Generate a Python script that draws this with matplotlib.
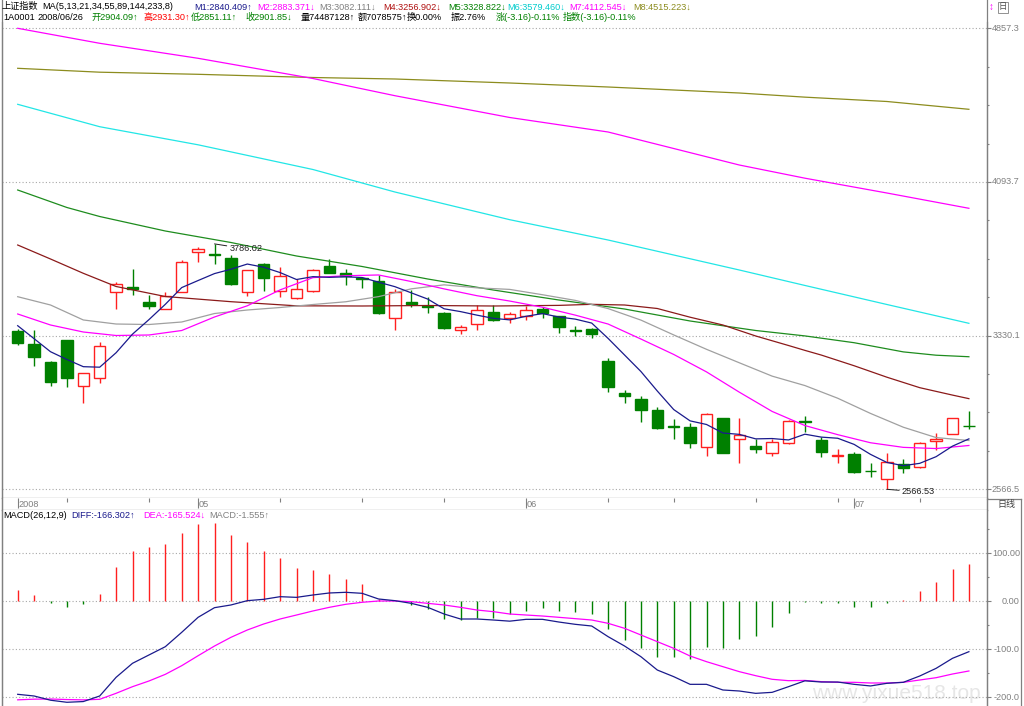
import numpy as np
import matplotlib
matplotlib.use('Agg')
import matplotlib.pyplot as plt
from matplotlib.lines import Line2D
from matplotlib.patches import Rectangle
from matplotlib.transforms import blended_transform_factory

# ---------------- data ----------------
opens = [3353.2, 3287.1, 3200.6, 3308.4, 3079.9, 3118.1, 3545.5, 3573.3, 3498.7, 3461.0,
         3548.4, 3744.2, 3735.8, 3717.4, 3545.5, 3686.1, 3551.9, 3518.6, 3551.9, 3677.6,
         3639.9, 3615.0, 3601.6, 3416.3, 3495.8, 3476.4, 3444.1, 3358.1, 3387.9, 3449.1,
         3416.3, 3429.2, 3461.0, 3427.7, 3357.3, 3361.6, 3205.6, 3046.6, 3013.8, 2960.6,
         2879.6, 2874.6, 2775.3, 2922.3, 2815.0, 2781.7, 2748.4, 2795.1, 2904.09, 2811.5,
         2733.5, 2742.0, 2659.5, 2616.3, 2690.8, 2675.9, 2808.1, 2839.9, 2883.1]
highs = [3361.6, 3358.1, 3204.1, 3308.4, 3145.9, 3300.0, 3595.1, 3661.2, 3530.6, 3548.4,
         3706.0, 3772.0, 3786.02, 3730.8, 3656.3, 3692.5, 3669.7, 3610.1, 3659.7, 3709.4,
         3659.7, 3623.0, 3631.4, 3561.9, 3556.9, 3520.6, 3449.1, 3383.0, 3482.4, 3482.4,
         3449.1, 3477.4, 3473.9, 3427.7, 3378.0, 3366.6, 3217.5, 3060.0, 3030.2, 2977.0,
         2915.9, 2897.5, 2947.2, 2922.3, 2919.4, 2815.0, 2815.0, 2910.9, 2931.30, 2825.0,
         2765.3, 2753.4, 2698.7, 2745.4, 2715.6, 2803.1, 2844.8, 2922.3, 2955.6]
lows = [3283.6, 3180.7, 3081.4, 3073.4, 2993.9, 3093.3, 3462.5, 3532.0, 3462.5, 3461.0,
        3548.4, 3697.5, 3684.6, 3581.7, 3528.6, 3553.4, 3523.6, 3512.2, 3548.4, 3639.9,
        3581.7, 3565.3, 3436.1, 3358.1, 3473.9, 3441.1, 3364.6, 3338.3, 3358.1, 3404.3,
        3394.4, 3407.8, 3416.3, 3344.7, 3329.8, 3316.9, 3048.6, 2993.9, 2902.5, 2867.7,
        2815.0, 2770.3, 2732.0, 2745.4, 2695.8, 2745.4, 2732.0, 2791.7, 2851.11, 2725.6,
        2698.7, 2649.1, 2629.2, 2566.53, 2649.1, 2670.9, 2761.8, 2839.9, 2864.7]
closes = [3292.0, 3225.5, 3098.2, 3118.1, 3145.9, 3278.6, 3585.2, 3560.4, 3477.4, 3527.1,
          3694.5, 3760.6, 3733.0, 3585.2, 3656.3, 3615.0, 3627.9, 3560.4, 3656.3, 3639.9,
          3627.9, 3610.1, 3444.1, 3545.5, 3485.8, 3473.9, 3368.1, 3374.5, 3457.5, 3406.3,
          3436.1, 3457.5, 3441.1, 3371.6, 3354.6, 3338.3, 3076.4, 3030.2, 2960.6, 2869.7,
          2877.6, 2795.1, 2940.7, 2748.4, 2836.4, 2765.3, 2803.1, 2905.9, 2901.85, 2753.4,
          2737.0, 2651.0, 2657.5, 2700.7, 2673.9, 2795.1, 2816.5, 2919.4, 2881.1]

ma1_bars = list(range(59))
ma1 = [3379.5, 3315.0, 3250.3, 3211.6, 3175.9, 3173.3, 3245.2, 3337.6, 3409.5, 3485.7,
       3568.9, 3604.0, 3638.5, 3660.1, 3685.9, 3670.0, 3643.5, 3609.0, 3623.2, 3619.9,
       3622.5, 3618.9, 3595.7, 3573.5, 3542.7, 3511.9, 3463.5, 3449.6, 3432.0, 3416.1,
       3408.5, 3426.4, 3439.7, 3422.5, 3412.2, 3392.6, 3316.4, 3234.2, 3152.0, 3055.0,
       2962.9, 2906.6, 2888.7, 2846.3, 2839.6, 2817.2, 2818.8, 2811.8, 2840.4, 2825.9,
       2820.3, 2789.8, 2740.2, 2699.9, 2684.0, 2695.6, 2728.7, 2781.1, 2817.2]
ma2_bars = list(range(0, 59, 2))
ma2 = [3437.7, 3383.0, 3348.2, 3330.8, 3333.3, 3355.6, 3422.8, 3478.5, 3557.5, 3618.4,
       3627.8, 3631.6, 3599.0, 3562.4, 3528.6, 3502.0, 3471.4, 3432.0, 3387.8, 3313.3,
       3236.7, 3150.0, 3049.3, 2953.6, 2883.4, 2838.1, 2797.9, 2775.0, 2769.1, 2784.3]
ma3_bars = list(range(0, 59, 2))
ma3 = [3523.6, 3482.4, 3408.0, 3387.9, 3385.4, 3397.9, 3440.1, 3457.5, 3469.9, 3484.8,
       3498.4, 3523.9, 3562.7, 3582.6, 3567.7, 3559.9, 3533.4, 3505.3, 3464.5, 3407.4,
       3333.7, 3262.2, 3195.3, 3129.0, 3082.1, 3019.1, 2943.6, 2875.1, 2823.6, 2809.1]
ma4_bars = [0, 2, 4, 6, 9, 13, 17, 21, 25, 29, 33, 35, 37, 39, 41, 43, 45, 47, 48, 49,
            51, 53, 55, 57, 58]
ma4 = [3780.5, 3711.0, 3639.9, 3574.3, 3524.6, 3498.8, 3478.3, 3477.4, 3479.9, 3477.4,
       3480.5, 3485.7, 3482.4, 3465.0, 3421.7, 3383.0, 3328.4, 3281.1, 3256.9, 3233.6,
       3180.6, 3123.6, 3071.6, 3034.7, 3017.0]
ma5_bars = [0, 3, 5, 9, 13, 17, 21, 25, 29, 33, 37, 41, 45, 48, 51, 54, 56, 58]
ma5 = [4053.8, 3966.9, 3922.1, 3850.1, 3793.0, 3725.9, 3673.7, 3611.6, 3556.9, 3507.2,
       3462.5, 3402.9, 3355.7, 3328.8, 3295.0, 3249.4, 3232.9, 3225.3]
ma678_bars = [0, 5, 11, 18, 23, 30, 36, 44, 48, 53, 58]
ma6 = [4479.6, 4368.3, 4278.4, 4155.7, 4043.9, 3906.3, 3805.3, 3656.3, 3579.5, 3484.9, 3391.4]
ma7 = [4857.3, 4782.8, 4708.2, 4607.9, 4522.4, 4414.1, 4342.0, 4178.0, 4112.5, 4038.9, 3962.9]
ma8 = [4658.5, 4639.2, 4628.7, 4612.8, 4605.4, 4585.5, 4565.6, 4535.8, 4515.2, 4493.6, 4454.8]

macd_diff = [-194.4, -197.9, -206.7, -211.0, -209.5, -197.9, -159.0, -129.8, -112.5, -95.2,
             -65.3, -34.0, -13.9, -8.3, 0.7, 3.5, 9.0, 7.6, 12.5, 16.7,
             18.1, 16.0, 4.2, 0.7, -4.9, -13.2, -27.1, -37.5, -37.5, -39.6,
             -42.0, -38.2, -38.2, -43.8, -48.6, -52.1, -74.3, -93.7, -116.0, -143.8,
             -157.6, -173.6, -173.6, -185.4, -187.5, -192.4, -190.3, -178.5, -166.3, -168.8,
             -168.8, -173.6, -177.0, -171.5, -169.4, -156.3, -140.3, -119.4, -105.6]
macd_dea = [-205.9, -204.5, -204.2, -205.3, -206.0, -204.8, -192.3, -178.5, -166.7, -152.8,
            -134.8, -114.0, -93.8, -75.7, -60.4, -47.9, -37.5, -29.2, -20.8, -13.2,
            -6.9, -2.7, 0.0, 0.0, -1.4, -4.9, -8.3, -13.2, -18.8, -22.2,
            -27.1, -29.2, -31.3, -34.0, -36.8, -39.6, -46.5, -56.9, -70.8, -84.7,
            -98.6, -114.6, -126.4, -136.8, -147.2, -155.6, -163.1, -166.0, -165.5, -168.0,
            -169.4, -169.4, -170.8, -170.8, -169.4, -164.6, -159.8, -152.1, -145.8]
macd_hist = [22.9, 13.2, -4.9, -11.8, -6.9, 14.6, 71.5, 104.0, 111.8, 118.8,
             141.7, 160.4, 161.8, 136.8, 122.9, 104.8, 89.6, 68.0, 64.6, 56.3,
             46.5, 35.4, 4.2, 0.6, -8.3, -17.4, -36.8, -39.6, -34.7, -34.7,
             -27.8, -20.1, -15.3, -20.1, -23.6, -27.0, -58.3, -81.2, -98.6, -116.0,
             -116.0, -120.1, -95.8, -97.2, -79.9, -72.3, -54.9, -24.3, -1.56, -3.5,
             -3.5, -11.8, -11.8, -3.5, 1.5, 21.5, 39.6, 66.7, 77.1]

date_labels = ['2008', '05', '06', '07']
date_label_bars = [0, 11, 31, 51]
week_tick_bars = [3, 8, 16, 21, 26, 36, 40, 45, 50, 55]

price_ticks = [4857.3, 4093.7, 3330.1, 2566.5]
price_tick_labels = ['4857.3', '4093.7', '3330.1', '2566.5']
macd_ticks = [100, 0, -100, -200]
macd_tick_labels = ['100.00', '0.00', '-100.0', '-200.0']

header1 = [('上证指数', 'black'), ('MA(5,13,21,34,55,89,144,233,8)', 'black'),
           ('M1:2840.409↑', '#1A1A8C'), ('M2:2883.371↓', '#FF00FF'),
           ('M3:3082.111↓', '#808080'), ('M4:3256.902↓', '#B01010'),
           ('M5:3328.822↓', '#008000'), ('M6:3579.460↓', '#00CCCC'),
           ('M7:4112.545↓', '#FF00FF'), ('M8:4515.223↓', '#8C8C1E')]
header2 = [('1A0001', 'black'), ('2008/06/26', 'black'), ('开2904.09↑', '#008000'),
           ('高2931.30↑', '#FF0000'), ('低2851.11↑', '#008000'), ('收2901.85↓', '#008000'),
           ('量74487128↑', 'black'), ('额7078575↑', 'black'), ('换0.00%', 'black'),
           ('振2.76%', 'black'), ('涨(-3.16)-0.11%', '#008000'), ('指数(-3.16)-0.11%', '#008000')]
header_macd = [('MACD(26,12,9)', 'black'), ('DIFF:-166.302↑', '#1A1A8C'),
               ('DEA:-165.524↓', '#FF00FF'), ('MACD:-1.555↑', '#808080')]

# ---------------- layout ----------------
plt.rcParams['font.family'] = ['Liberation Sans', 'Noto Sans CJK SC', 'DejaVu Sans']
FS = 6.6
W, H = 1024, 706
fig = plt.figure(figsize=(W / 100, H / 100), dpi=100)
fig.patch.set_facecolor('white')

def fx(px):
    return px / W

def fy(py):
    return 1 - py / H

def rect(l, t, r, b):
    return [l / W, 1 - b / H, (r - l) / W, (b - t) / H]

XL, XR = 1.5, 987.0
X0, DX = 17.7, 16.4
xlim = ((XL - X0) / DX, (XR - X0) / DX)
GRAY = '#808080'
GRID = '#A8A8A8'
RED = '#FF2020'
GRN = '#008000'

P0, PS = 4997.92, 4.969
ax = fig.add_axes(rect(XL, 22, XR, 498))
ax.set_xlim(*xlim)
ax.set_ylim(P0 - PS * 498, P0 - PS * 22)

axd = fig.add_axes(rect(XL, 498, XR, 510))
axd.set_xlim(*xlim)
axd.set_ylim(12, 0)

ax2 = fig.add_axes(rect(XL, 510, XR, 706))
ax2.set_xlim(*xlim)
ax2.set_ylim((601 - 706) / 0.48, (601 - 510) / 0.48)

for a in (ax, axd, ax2):
    a.set_facecolor('white')
    a.set_xticks([])
    for s in a.spines.values():
        s.set_color(GRAY)
        s.set_linewidth(0.9)
ax.spines['top'].set_visible(False)
axd.set_yticks([])
axd.spines['top'].set_visible(False)
ax2.spines['top'].set_visible(False)
ax2.spines['bottom'].set_visible(False)

def right_ticks(a, majors, minors, labels):
    a.yaxis.tick_right()
    a.set_yticks(majors)
    a.set_yticks(minors, minor=True)
    a.tick_params(axis='y', which='major', length=3.2, width=0.8, color=GRAY,
                  labelright=False, labelleft=False, direction='out')
    a.tick_params(axis='y', which='minor', length=1.6, width=0.8, color=GRAY,
                  labelright=False, labelleft=False, direction='out')
    tr = blended_transform_factory(fig.transFigure, a.transData)
    for v, lab in zip(majors, labels):
        a.axhline(v, color=GRID, lw=0.8, ls=(0, (1, 2)), zorder=1)
        a.text(fx(1020), v, lab, transform=tr, ha='right', va='center',
               fontsize=FS, color=GRAY, clip_on=False)

pminor = []
for a_, b_ in zip(price_ticks[:-1], price_ticks[1:]):
    pminor += list(np.linspace(a_, b_, 5)[1:-1])
right_ticks(ax, price_ticks, pminor, price_tick_labels)
right_ticks(ax2, macd_ticks, [150, 50, -50, -150], macd_tick_labels)

# ---------------- candles ----------------
for i, (o, h, l, c) in enumerate(zip(opens, highs, lows, closes)):
    up = c >= o
    col = RED if up else GRN
    ax.vlines(i, l, h, color=col, lw=1.0, zorder=3)
    ax.add_patch(Rectangle((i - 0.35, min(o, c)), 0.7, abs(c - o),
                           facecolor='white' if up else GRN, edgecolor=col,
                           lw=1.0, zorder=4))

# ---------------- moving averages ----------------
ma_specs = [(ma678_bars, ma8, '#8C8C1E'), (ma678_bars, ma7, '#FF00FF'),
            (ma678_bars, ma6, '#22E6E6'), (ma5_bars, ma5, '#1E8C1E'),
            (ma4_bars, ma4, '#8B1A1A'), (ma3_bars, ma3, '#A0A0A0'),
            (ma2_bars, ma2, '#FF00FF'), (ma1_bars, ma1, '#1A1A8C')]
for bx, vals, colr in ma_specs:
    ax.plot(bx, vals, color=colr, lw=0.9, zorder=5)

ih = int(np.argmax(highs))
il = int(np.argmin(lows))
ax.annotate(f'{highs[ih]:.2f}', xy=(ih, highs[ih]), xytext=(15, -5),
            textcoords='offset pixels', ha='left', va='center', fontsize=FS,
            color='#202020', zorder=6,
            arrowprops=dict(arrowstyle='-', color='#202020', lw=0.7,
                            shrinkA=0, shrinkB=0))
ax.annotate(f'{lows[il]:.2f}', xy=(il, lows[il]), xytext=(15, -2.5),
            textcoords='offset pixels', ha='left', va='center', fontsize=FS,
            color='#202020', zorder=6,
            arrowprops=dict(arrowstyle='-', color='#202020', lw=0.7,
                            shrinkA=0, shrinkB=0))

# ---------------- date strip ----------------
axd.vlines(week_tick_bars, 0.3, 3.8, color=GRAY, lw=0.8)
axd.vlines(date_label_bars, 0.3, 9.5, color=GRAY, lw=0.8)
for b, lab in zip(date_label_bars, date_labels):
    axd.text(b + 0.06, 6.3, lab, ha='left', va='center', fontsize=FS, color=GRAY)

# ---------------- MACD ----------------
xs = np.arange(len(macd_hist))
hcols = [RED if v > 0 else GRN for v in macd_hist]
ax2.vlines(xs, 0, macd_hist, colors=hcols, lw=1.0, zorder=3)
ax2.plot(xs, macd_dea, color='#FF00FF', lw=0.9, zorder=4)
ax2.plot(xs, macd_diff, color='#1A1A8C', lw=0.9, zorder=4)

ax2.text(fx(812), fy(699), 'www.yixue518.top', transform=fig.transFigure,
         fontsize=15, family='Liberation Sans', color='#E6E6E6', ha='left',
         va='baseline', zorder=0.5, clip_on=False)

# ---------------- header texts ----------------
h1_x = [2, 42, 194, 257, 319, 383, 448, 507, 569, 633]
h2_x = [3, 37, 91, 143, 191, 245, 301, 358, 407, 451, 496, 563]
hm_x = [3, 71, 143, 209]
for xp, (t, colr) in zip(h1_x, header1):
    fig.text(fx(xp), fy(6.8), t, fontsize=FS, color=colr, ha='left', va='center')
for xp, (t, colr) in zip(h2_x, header2):
    fig.text(fx(xp), fy(17.3), t, fontsize=FS, color=colr, ha='left', va='center')
for xp, (t, colr) in zip(hm_x, header_macd):
    fig.text(fx(xp), fy(515.5), t, fontsize=FS, color=colr, ha='left', va='center')

def fline(x1, y1, x2, y2, colr=GRAY, lw=0.9):
    fig.add_artist(Line2D([fx(x1), fx(x2)], [fy(y1), fy(y2)], color=colr, lw=lw))

fline(XR, 0, XR, 706)
fline(XL, 0, XL, 706)
fline(XR, 498.5, 1021, 498.5)
fline(1021, 498.5, 1021, 706)
fig.text(fx(997), fy(504), '日线', fontsize=6.5, color='#404040', ha='left', va='center')
fig.text(fx(991), fy(7), '↕', fontsize=7, color='#FF00FF', ha='center', va='center')
fig.text(fx(1003), fy(7.5), '日', fontsize=6, color='#505050', ha='center', va='center',
         bbox=dict(boxstyle='square,pad=0.15', fc='white', ec=GRAY, lw=0.6))

fig.savefig('out.png', dpi=100, facecolor='white')
